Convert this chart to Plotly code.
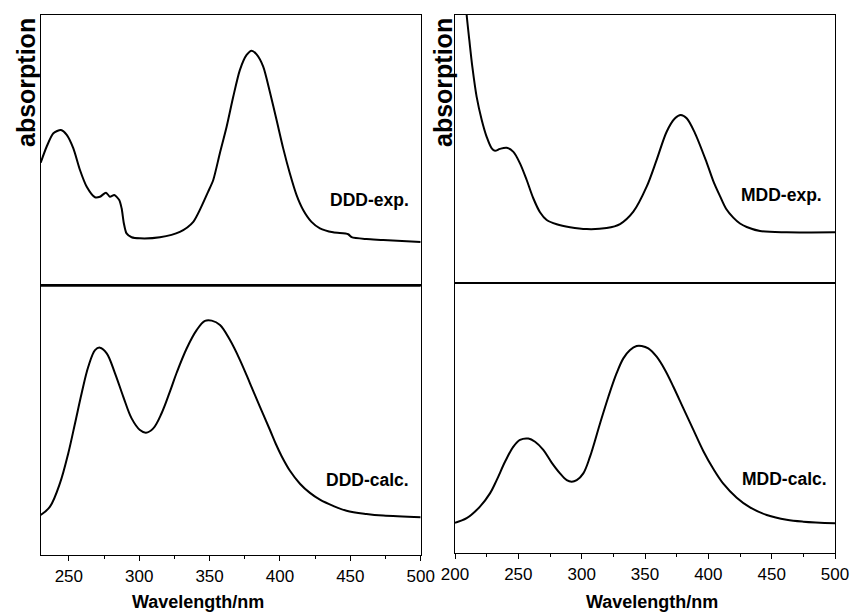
import plotly.graph_objects as go

# ---------------- data ----------------
ddd_exp_x = [230, 234.2, 239, 244.4, 248.5, 253.2, 257.9, 262.7, 268.6, 272.1, 276.4, 279.2, 282.3, 285.8,
             287.5, 289.1, 291, 294.6, 300.5, 314.7, 328.9, 338.4, 349, 352.6, 357.3, 362.1, 366.8, 371.5,
             376.3, 379.9, 383.4, 388.1, 392.8, 397.6, 402.3, 407, 411.8, 416.5, 422.4, 428.4, 437.8, 448.5,
             450.9, 461.5, 473.4, 500]
ddd_exp_y = [45.3, 51.2, 56.2, 57.4, 55.6, 50.6, 42.6, 36.4, 32.5, 32.7, 34.2, 32.7, 33.3, 31.5,
             28.4, 22.8, 19.1, 17.7, 17.3, 17.7, 19.7, 23.4, 34.6, 38.9, 48.8, 58.6, 69.7, 79.6,
             85.2, 86.8, 85.4, 80.9, 71.6, 61.1, 50.6, 41.4, 33.3, 27.8, 23.4, 21.0, 19.5, 18.8,
             17.7, 17.0, 16.7, 15.9]

ddd_calc_x = [230, 236.6, 243.7, 249.6, 254.4, 259.1, 263.8, 268.6, 272.1, 276.9, 282.8, 288.7, 294.6,
              300.5, 304.8, 310, 315.9, 321.8, 326.6, 333.7, 340.8, 346.7, 351.5, 357.4, 364.5, 371.6,
              378.7, 385.8, 392.9, 397, 401.2, 407.1, 414.2, 421.3, 428.4, 437.8, 447.3, 461.5, 473.3, 500]
ddd_calc_y = [14.8, 17.9, 26.6, 37.7, 48.8, 59.9, 69.7, 75.9, 76.8, 74.7, 67.3, 58.6, 50.6,
              46.3, 45.3, 46.9, 52.5, 60.5, 67.5, 76.5, 83.3, 86.7, 86.8, 85.2, 79.6, 72.2,
              63.6, 54.9, 46.3, 41.2, 36.6, 31.2, 26.4, 23.0, 20.5, 18.2, 16.4, 15.2, 14.6, 14.0]

mdd_exp_x = [200, 204, 207, 209.2, 211.3, 213.7, 217.1, 221.1, 225, 229, 231.6, 235.5, 240.8, 246.1,
             251.3, 256.6, 261.8, 267.1, 272.4, 280.3, 290.8, 304, 319.7, 330.3, 340.8, 351.3, 359.2,
             367.1, 373.7, 378.2, 382.9, 389.5, 398.7, 404, 409.2, 414, 419.7, 425, 430.3, 440.8, 461.9, 500]
mdd_exp_y = [160, 130, 112, 100, 90.7, 80.7, 69.5, 60.9, 54.6, 50.3, 49.4, 50.1, 50.5, 49.0,
             44.7, 38.5, 31.7, 26.5, 23.6, 22.0, 20.9, 20.2, 20.6, 22.1, 26.7, 36.0, 46.0,
             56.5, 61.5, 62.7, 61.5, 55.9, 45.0, 38.0, 32.5, 27.8, 24.5, 22.3, 21.0, 19.5, 19.0, 19.0]

mdd_calc_x = [200, 209.2, 219.7, 227.6, 232.9, 239.5, 246.1, 251.3, 257.9, 263.2, 269.7, 276.3, 282.9,
              288.2, 292.1, 296.1, 301.3, 306.6, 314.5, 321.1, 327.6, 332.9, 338.2, 343.4, 347.4, 352.6,
              359.2, 365.8, 372.4, 380.3, 388.2, 396.1, 403.9, 411.8, 422.4, 432.9, 446.1, 461.8, 475, 500]
mdd_calc_y = [11.3, 13.0, 17.3, 22.2, 27.1, 33.9, 39.5, 42.0, 42.5, 41.3, 38.3, 33.6, 29.6,
              27.1, 26.5, 27.1, 29.6, 35.8, 48.1, 58.0, 66.7, 72.2, 75.3, 76.8, 76.8, 75.9,
              72.8, 67.9, 61.7, 53.7, 45.7, 37.8, 31.3, 25.8, 20.6, 17.0, 14.2, 12.4, 11.7, 11.1]

left_ticks = [250, 300, 350, 400, 450, 500]
right_ticks = [200, 250, 300, 350, 400, 450, 500]
panel_labels = ["DDD-exp.", "DDD-calc.", "MDD-exp.", "MDD-calc."]

# ---------------- figure ----------------
W, H = 850, 614
FONT = "Arial, Liberation Sans, sans-serif"

def px(x):
    return x / W

def py(y):
    return 1 - y / H

fig = go.Figure()
line = dict(color="black", width=2)
series = [(ddd_exp_x, ddd_exp_y, "x", "y", 0.7), (ddd_calc_x, ddd_calc_y, "x2", "y2", 1.0),
          (mdd_exp_x, mdd_exp_y, "x3", "y3", 0.9), (mdd_calc_x, mdd_calc_y, "x4", "y4", 1.0)]
for xs, ys, xa, ya, sm in series:
    fig.add_trace(go.Scatter(x=xs, y=ys, mode="lines", line=dict(line, shape="spline", smoothing=sm),
                             xaxis=xa, yaxis=ya, showlegend=False, hoverinfo="skip"))

left_dom = [px(40.7), px(420.7)]
right_dom = [px(455), px(835)]

ax_common = dict(showline=True, linecolor="black", linewidth=1.3, mirror=True, showgrid=False,
                 zeroline=False, automargin=False)

def xax(dom, rng, ticks, anchor, labels):
    d = dict(ax_common, domain=dom, range=rng, anchor=anchor)
    if labels:
        minor_vals = [t - 25 for t in ticks if rng[0] <= t - 25 <= rng[1]]
        d.update(tickmode="array", tickvals=ticks, ticks="outside", ticklen=5, tickwidth=1.2, tickcolor="black",
                 tickfont=dict(family=FONT, size=17, color="black"),
                 minor=dict(tickmode="array", tickvals=minor_vals,
                            ticks="outside", ticklen=3, tickwidth=1.1, tickcolor="black"))
    else:
        d.update(showticklabels=False, ticks="")
    return d

def yax(dom, anchor):
    return dict(ax_common, domain=dom, range=[0, 100], anchor=anchor, showticklabels=False, ticks="")

fig.update_layout(
    width=W, height=H,
    margin=dict(l=0, r=0, t=0, b=0, pad=0, autoexpand=False),
    paper_bgcolor="white", plot_bgcolor="white",
    xaxis=xax(left_dom, [230, 500], left_ticks, "y", False),
    xaxis2=xax(left_dom, [230, 500], left_ticks, "y2", True),
    xaxis3=xax(right_dom, [200, 500], right_ticks, "y3", False),
    xaxis4=xax(right_dom, [200, 500], right_ticks, "y4", True),
    yaxis=yax([py(285), py(15)], "x"),
    yaxis2=yax([py(555), py(285)], "x2"),
    yaxis3=yax([py(283.3), py(15)], "x3"),
    yaxis4=yax([py(553.3), py(283.3)], "x4"),
)

# thick separator on the left column
fig.add_shape(type="line", xref="paper", yref="paper", x0=left_dom[0], x1=left_dom[1],
              y0=py(285.5), y1=py(285.5), line=dict(color="black", width=2.6))

ann = []
lab_pos = [(411, 200), (411, 480), (824, 195), (829, 479)]
for t, (x, y) in zip(panel_labels, lab_pos):
    ann.append(dict(text="<b>%s</b>" % t, x=px(x), y=py(y), xref="paper", yref="paper",
                    xanchor="right", yanchor="middle", showarrow=False,
                    font=dict(family=FONT, size=17.5, color="black")))
for x in (26.5, 443.5):
    ann.append(dict(text="<b>absorption</b>", x=px(x), y=py(82.5), xref="paper", yref="paper",
                    xanchor="center", yanchor="middle", showarrow=False, textangle=-90,
                    font=dict(family=FONT, size=25, color="black")))
for x in (197.5, 651.7):
    ann.append(dict(text="<b>Wavelength/nm</b>", x=px(x), y=0, xref="paper", yref="paper",
                    xanchor="center", yanchor="bottom", showarrow=False,
                    font=dict(family=FONT, size=18, color="black")))
fig.update_layout(annotations=ann)

# remove the browser's default 8px body margin so the figure fills the window exactly
fig.write_html("out.html", config={"displayModeBar": False},
               post_script="document.body.style.margin='0px';document.body.style.overflow='hidden';")
